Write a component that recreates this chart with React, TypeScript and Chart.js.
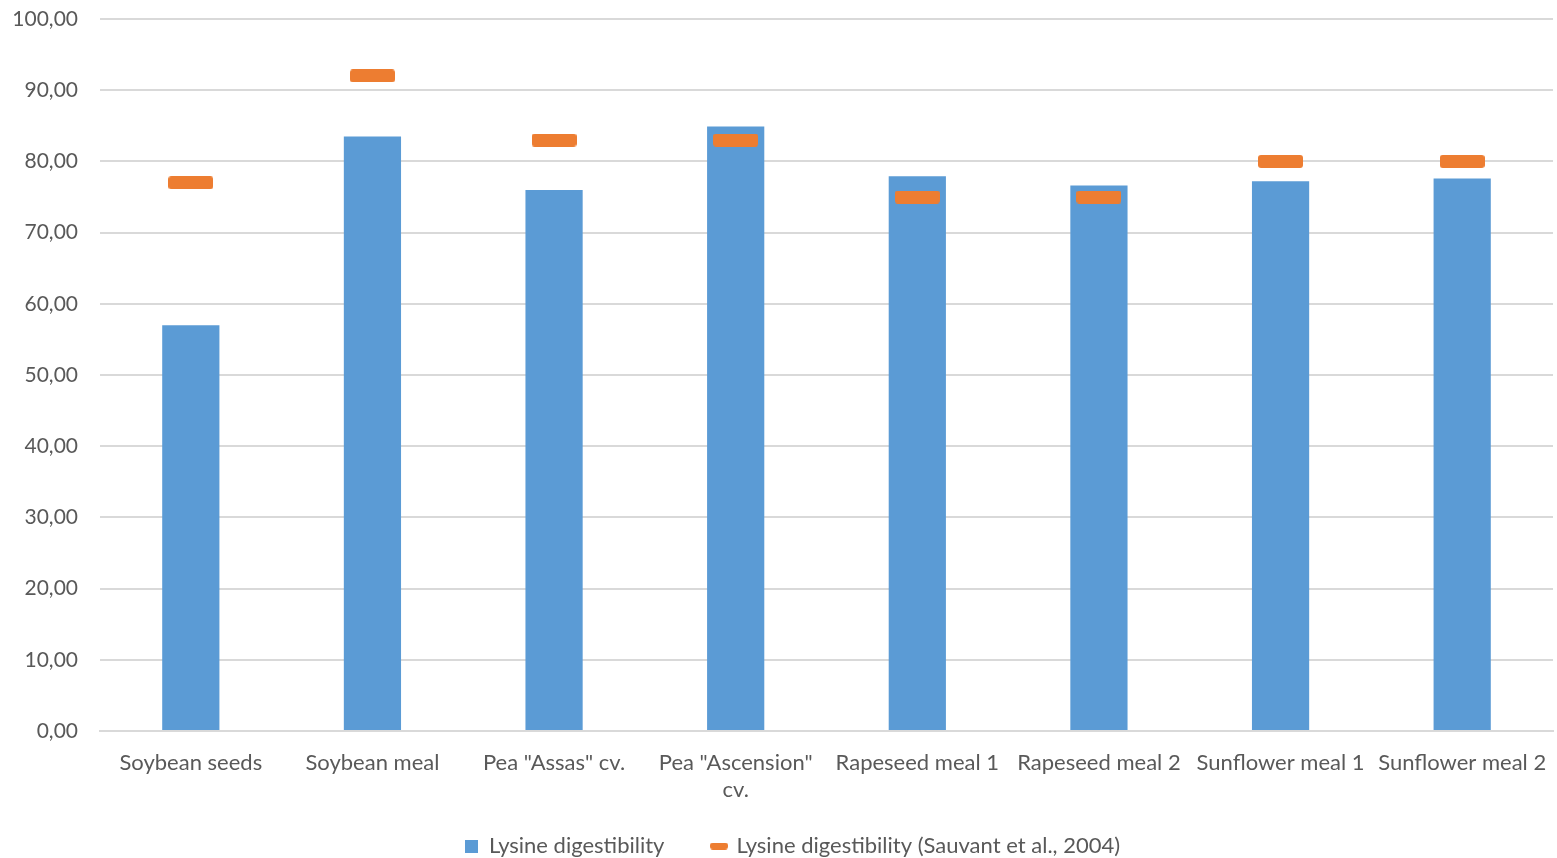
import React, { useEffect, useRef } from "react";
import { Chart, registerables } from "chart.js";

Chart.register(...registerables);

const categories: (string | string[])[] = [
  "Soybean seeds",
  "Soybean meal",
  'Pea "Assas" cv.',
  ['Pea "Ascension"', "cv."],
  "Rapeseed meal 1",
  "Rapeseed meal 2",
  "Sunflower meal 1",
  "Sunflower meal 2",
];
const lysineDigestibility = [57.0, 83.5, 76.0, 84.9, 77.9, 76.6, 77.2, 77.6];
const sauvantValues = [77.0, 92.0, 83.0, 83.0, 75.0, 75.0, 80.0, 80.0];
const seriesNames = ["Lysine digestibility", "Lysine digestibility (Sauvant et al., 2004)"];
const yTicks = [0, 10, 20, 30, 40, 50, 60, 70, 80, 90, 100];

const BLUE = "#5B9BD5";
const ORANGE = "#ED7D31";
const TEXT = "#595959";
const FONT = "Lato, 'Open Sans', sans-serif";

function roundedCanvas(w: number, h: number, r: number, color: string) {
  const c = document.createElement("canvas");
  c.width = w;
  c.height = h;
  const ctx = c.getContext("2d")!;
  ctx.fillStyle = color;
  ctx.beginPath();
  ctx.moveTo(r, 0);
  ctx.lineTo(w - r, 0);
  ctx.quadraticCurveTo(w, 0, w, r);
  ctx.lineTo(w, h - r);
  ctx.quadraticCurveTo(w, h, w - r, h);
  ctx.lineTo(r, h);
  ctx.quadraticCurveTo(0, h, 0, h - r);
  ctx.lineTo(0, r);
  ctx.quadraticCurveTo(0, 0, r, 0);
  ctx.closePath();
  ctx.fill();
  return c;
}

const layoutTweaks = {
  id: "layoutTweaks",
  afterLayout(chart: any) {
    const lg = chart.legend;
    if (lg) {
      lg.left += 16;
      lg.right += 16;
    }
    const x = chart.scales.x;
    if (x) {
      x.bottom = chart.height;
    }
  },
};

export default function App() {
  const ref = useRef<HTMLCanvasElement>(null);
  useEffect(() => {
    const marker = roundedCanvas(45, 13, 3, ORANGE);
    const legendMarker = roundedCanvas(18, 7, 3, ORANGE);
    const legendBox = roundedCanvas(13, 13, 0, BLUE);
    const chart = new Chart(ref.current!, {
      type: "bar",
      data: {
        labels: categories,
        datasets: [
          {
            type: "bar",
            label: seriesNames[0],
            data: lysineDigestibility,
            backgroundColor: BLUE,
            categoryPercentage: 1,
            barPercentage: 0.315,
            order: 2,
          },
          {
            type: "line",
            label: seriesNames[1],
            data: sauvantValues,
            showLine: false,
            pointStyle: marker as any,
            pointRadius: 10,
            pointHoverRadius: 10,
            backgroundColor: ORANGE,
            borderColor: ORANGE,
            order: 1,
          } as any,
        ],
      },
      plugins: [layoutTweaks],
      options: {
        animation: false,
        responsive: false,
        maintainAspectRatio: false,
        layout: { autoPadding: false, padding: { top: 19, right: 4, left: 0, bottom: -9 } },
        scales: {
          x: {
            grid: { display: false, drawTicks: false },
            border: { display: true, color: "#D9D9D9", width: 2 },
            afterFit: (axis: any) => {
              axis.paddingLeft = 0;
              axis.paddingRight = 0;
              axis.height = 56;
            },
            ticks: {
              color: TEXT,
              font: { family: FONT, size: 22 },
              padding: 19,
              maxRotation: 0,
              autoSkip: false,
            },
          },
          y: {
            min: 0,
            max: 100,
            afterBuildTicks: (axis: any) => {
              axis.ticks = yTicks.map((v) => ({ value: v }));
            },
            afterFit: (axis: any) => {
              axis.width = 100;
              axis.paddingTop = 0;
              axis.paddingBottom = 0;
            },
            grid: { color: "#D9D9D9", lineWidth: 2, drawTicks: false },
            border: { display: false },
            ticks: {
              color: TEXT,
              font: { family: FONT, size: 21 },
              padding: 22,
              callback: (v: any) => Number(v).toFixed(2).replace(".", ","),
            },
          },
        },
        plugins: {
          tooltip: { enabled: false },
          legend: {
            position: "bottom",
            labels: {
              color: TEXT,
              font: { family: FONT, size: 22 },
              usePointStyle: true,
              boxWidth: 13,
              boxHeight: 13,
              padding: 48,
              generateLabels: (ch: any) =>
                ch.data.datasets.map((ds: any, i: number) => ({
                  text: ds.label,
                  fillStyle: i === 0 ? BLUE : ORANGE,
                  strokeStyle: "transparent",
                  lineWidth: 0,
                  pointStyle: i === 0 ? legendBox : legendMarker,
                  datasetIndex: i,
                  hidden: false,
                  fontColor: TEXT,
                })),
            },
          },
        },
      },
    });
    return () => chart.destroy();
  }, []);
  return (
    <div style={{ position: "fixed", left: 0, top: 0, width: 1557, height: 858, background: "#fff" }}>
      <canvas ref={ref} width={1557} height={858} style={{ display: "block" }} />
    </div>
  );
}
